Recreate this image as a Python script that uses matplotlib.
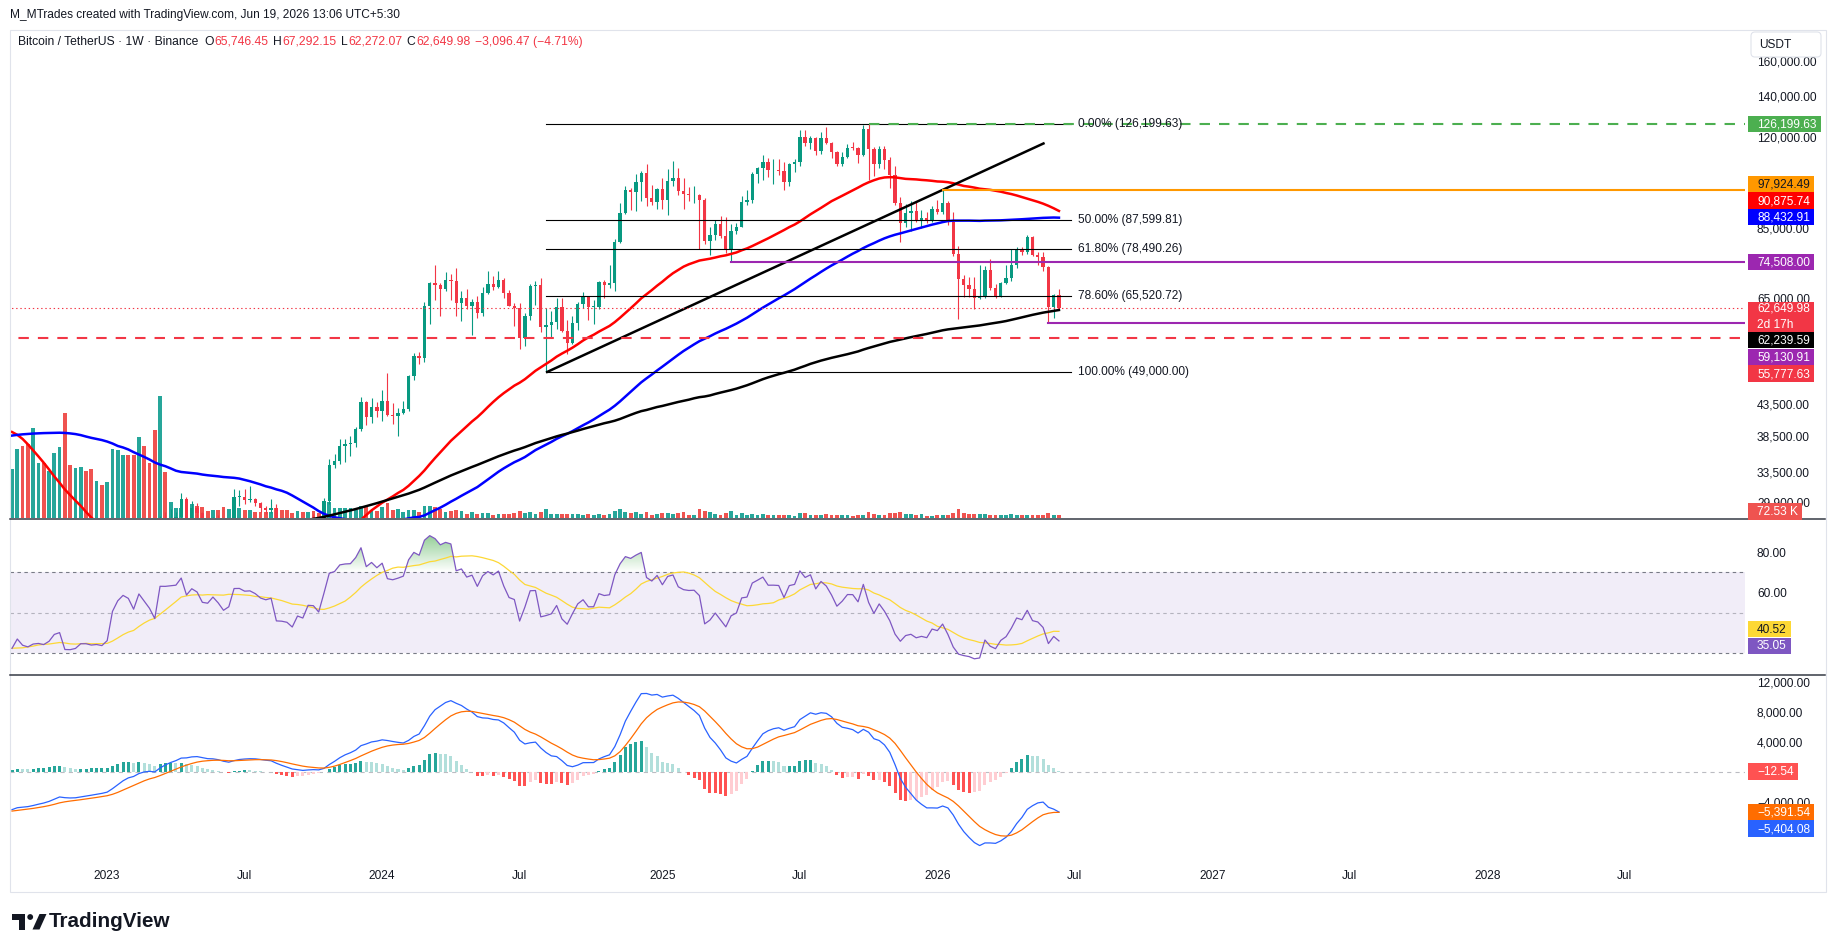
import numpy as np
import pandas as pd
import matplotlib
matplotlib.use("Agg")
import matplotlib.pyplot as plt
import matplotlib.dates as mdates
from matplotlib.patches import Rectangle, Polygon, Circle, PathPatch, FancyBboxPatch
from matplotlib.path import Path
from matplotlib.ticker import FixedLocator, FuncFormatter, NullLocator
from matplotlib.colors import LinearSegmentedColormap

plt.rcParams['font.family'] = ['Liberation Sans', 'DejaVu Sans']
plt.rcParams['lines.scale_dashes'] = False

# ======================= DATA =======================
first_week = '2022-08-29'          # weekly candles, Monday opens
opens = [
    19550, 19830, 21650, 19420, 18800, 19310, 19415, 19070, 19570, 20630,
    20910, 16330, 16280, 16450, 17090, 17080, 16780, 16840, 16620, 17130,
    20880, 22710, 23740, 23330, 21780, 24630, 23550, 22420, 20630, 28000,
    27990, 28170, 28320, 30300, 27590, 29230, 28690, 26910, 26750, 28070,
    27110, 25840, 26500, 30540, 30570, 30160, 30230, 29860, 29280, 29050,
    29300, 26100, 26050, 25880, 25160, 26530, 26250, 27970, 27920, 27150,
    30000, 34500, 35010, 37060, 37360, 37450, 39460, 43780, 41370, 42990,
    42280, 43940, 41740, 41580, 42030, 42580, 48300, 52140, 51730, 63110,
    68960, 68390, 67210, 69650, 69360, 63920, 64930, 63110, 64010, 61480,
    66270, 68510, 67760, 69650, 66220, 63210, 62670, 55860, 60800, 68160,
    68270, 58160, 58710, 59410, 62880, 57300, 54830, 59130, 63580, 65600,
    62820, 62850, 69030, 68370, 68730, 80370, 89850, 97900, 97280, 101110,
    104460, 95180, 93710, 98360, 94510, 101330, 102620, 97700, 96460, 96120,
    96260, 94270, 80730, 82580, 86080, 82390, 78430, 83760, 85170, 93750,
    94280, 104120, 106460, 109000, 105700, 105720, 105600, 100960, 108370, 109200,
    119840, 117270, 119450, 113800, 119300, 117400, 113500, 108250, 111140, 115270,
    115230, 112160, 123500, 114700, 108300, 114500, 110100, 103900, 93300, 86600,
    89800, 90500, 87600, 88300, 87300, 91300, 90300, 93300, 86700, 76800,
    69800, 68300, 67300, 65100, 65400, 72300, 67500, 65500, 68800, 70300,
    73800, 78400, 77500, 81900, 76700, 76000, 73100, 62800, 65746.45]
highs = [
    20580, 21860, 22800, 19950, 20380, 20480, 19950, 19700, 21090, 21480,
    21050, 17190, 16800, 17420, 17430, 18390, 17060, 16970, 17180, 21260,
    23370, 23820, 24250, 23450, 25250, 25130, 23880, 22600, 28390, 28870,
    29190, 28800, 31000, 30480, 30040, 29850, 28800, 27650, 28260, 28450,
    27400, 26800, 31430, 31280, 31500, 31800, 30440, 29990, 29530, 30250,
    29690, 26800, 28150, 26400, 26780, 27480, 28060, 28580, 27990, 30400,
    35200, 35980, 37980, 37980, 38450, 39770, 44700, 44000, 44400, 43800,
    45880, 48970, 43580, 42850, 43880, 48590, 52820, 52990, 64000, 69170,
    73780, 68900, 71770, 71340, 72800, 66870, 67230, 64730, 65500, 67700,
    71980, 70600, 71990, 70200, 66980, 63800, 63860, 61400, 68490, 69380,
    70080, 62720, 61800, 65050, 64960, 59810, 60670, 64130, 66500, 65610,
    64480, 69400, 69520, 73620, 81500, 93480, 99590, 98870, 104090, 105250,
    108350, 99960, 98900, 102720, 106420, 109590, 106450, 102500, 99200, 99480,
    96500, 95000, 85300, 87450, 88770, 88500, 86100, 86500, 95760, 97900,
    104970, 107100, 111980, 110720, 110500, 110400, 108950, 108530, 110530, 123200,
    123220, 120250, 119800, 122300, 124470, 117600, 113700, 113400, 116800, 117900,
    115400, 125700, 126199.63, 115600, 116000, 116000, 111000, 107300, 95500, 93000,
    94000, 94000, 91000, 90200, 92300, 94300, 97924.49, 94000, 90300, 79200,
    71000, 70500, 70400, 73800, 73500, 75300, 68500, 69000, 73600, 78400,
    79000, 79000, 82600, 82400, 77500, 77600, 73500, 66000, 67292.15]
lows = [
    19520, 18540, 19320, 18125, 18470, 19090, 18190, 18650, 19150, 20050,
    15590, 15830, 15480, 16000, 16875, 16530, 16400, 16330, 16500, 17110,
    20400, 22300, 22500, 21360, 21400, 22960, 21970, 19550, 20270, 26600,
    26510, 27200, 28170, 27100, 26940, 27660, 25810, 26100, 25870, 26600,
    25350, 24800, 26250, 29500, 29700, 29950, 29500, 28860, 28580, 28700,
    25170, 25800, 25330, 24900, 24900, 26100, 25990, 27170, 26540, 26960,
    29670, 34080, 34530, 34800, 35630, 36870, 39290, 40180, 40500, 41320,
    40750, 41500, 40280, 38550, 41880, 42250, 47700, 50520, 50900, 59000,
    64550, 60780, 66800, 64490, 60660, 59600, 62390, 56550, 60190, 60750,
    66060, 67120, 67600, 65070, 63000, 58400, 53480, 54260, 59900, 63450,
    57120, 49000, 56120, 57860, 57200, 52550, 54580, 57490, 62700, 59830,
    58890, 62460, 65060, 67460, 66830, 80250, 89380, 90790, 90500, 94150,
    92230, 92570, 91220, 91200, 89260, 99500, 96150, 91230, 94090, 93400,
    78260, 80000, 76600, 81130, 81600, 77150, 74508, 83000, 85140, 92800,
    93370, 100700, 102000, 103070, 100370, 104000, 98200, 99600, 105100, 107450,
    115740, 114720, 112000, 112650, 116800, 110600, 107300, 107250, 110600, 114400,
    108600, 111500, 102000, 103600, 106600, 106300, 98700, 92600, 80500, 85200,
    83800, 86700, 85000, 86500, 86800, 89500, 89500, 86000, 76400, 60000,
    65200, 65200, 62400, 64800, 65000, 67000, 65000, 65300, 68500, 69500,
    73000, 76500, 77000, 76400, 73800, 72200, 59130.91, 60300, 62272.07]
closes = [
    19830, 21650, 19420, 18800, 19310, 19415, 19070, 19570, 20630, 20910,
    16330, 16280, 16450, 17090, 17080, 16780, 16840, 16620, 17130, 20880,
    22710, 23740, 23330, 21780, 24630, 23550, 22420, 20630, 28000, 27990,
    28170, 28320, 30300, 27590, 29230, 28690, 26910, 26750, 28070, 27110,
    25840, 26500, 30540, 30570, 30160, 30230, 29860, 29280, 29050, 29300,
    26100, 26050, 25880, 25160, 26530, 26250, 27970, 27920, 27150, 30000,
    34500, 35010, 37060, 37360, 37450, 39460, 43780, 41370, 42990, 42280,
    43940, 41740, 41580, 42030, 42580, 48300, 52140, 51730, 63110, 68960,
    68390, 67210, 69650, 69360, 63920, 64930, 63110, 64010, 61480, 66270,
    68510, 67760, 69650, 66220, 63210, 62670, 55860, 60800, 68160, 68270,
    58160, 58710, 59410, 62880, 57300, 54830, 59130, 63580, 65600, 62820,
    62850, 69030, 68370, 68730, 80370, 89850, 97900, 97280, 101110, 104460,
    95180, 93710, 98360, 94510, 101330, 102620, 97700, 96460, 96120, 96260,
    94270, 80730, 82580, 86080, 82390, 78430, 83760, 85170, 93750, 94280,
    104120, 106460, 109000, 105700, 105720, 105600, 100960, 108370, 109200, 119840,
    117270, 119450, 113800, 119300, 117400, 113500, 108250, 111140, 115270, 115230,
    112160, 123500, 114700, 108300, 114500, 110100, 103900, 93300, 86600, 89800,
    90500, 87600, 88300, 87300, 91300, 90300, 93300, 86700, 76800, 69800,
    68300, 67300, 65100, 65400, 72300, 67500, 65500, 68800, 70300, 73800,
    78400, 77500, 81900, 76700, 76000, 73100, 62800, 65746.45, 62649.98]
volumes_k = [
    1166, 1642, 1714, 1761, 2142, 1309, 1309, 1119, 1547, 1690,
    2499, 1261, 1190, 1214, 1119, 1166, 881, 785, 857, 1642,
    1618, 1499, 1499, 1499, 1928, 1714, 1309, 2094, 2904, 1095,
    381, 238, 238, 238, 333, 286, 262, 167, 190, 190,
    262, 214, 262, 238, 190, 190, 143, 143, 143, 143,
    238, 190, 190, 119, 167, 143, 143, 167, 119, 214,
    381, 238, 238, 238, 238, 190, 286, 262, 190, 167,
    262, 357, 190, 214, 143, 190, 190, 143, 286, 286,
    262, 214, 143, 167, 190, 167, 95, 143, 95, 119,
    119, 71, 95, 95, 95, 119, 167, 119, 143, 95,
    143, 214, 95, 95, 95, 95, 95, 95, 71, 95,
    71, 95, 71, 95, 167, 214, 143, 119, 143, 95,
    143, 71, 95, 119, 119, 95, 119, 143, 71, 71,
    214, 167, 143, 95, 71, 119, 167, 71, 119, 71,
    95, 71, 95, 71, 71, 71, 71, 71, 48, 119,
    119, 71, 71, 71, 95, 71, 71, 71, 71, 48,
    71, 71, 143, 95, 71, 71, 119, 119, 143, 95,
    95, 71, 95, 48, 48, 71, 71, 71, 119, 214,
    119, 95, 95, 95, 95, 71, 71, 71, 71, 95,
    71, 71, 71, 71, 71, 71, 119, 71, 72.53]
# weekly closes before the visible window (Nov-2019 .. Aug-2022), used only to warm up MAs / RSI / MACD
prior_closes = [
    9040, 8500, 7050, 7400, 7510, 7070, 7510, 7250, 7760,
    8180, 8700, 8590, 9340, 10150, 9920, 9960, 8530, 8030, 5360,
    5820, 5880, 6770, 6900, 7120, 7700, 8890, 8720, 9670, 8720,
    9450, 9750, 9330, 9290, 9120, 9070, 9240, 9170, 9930, 11090,
    11680, 11900, 11650, 11700, 10250, 10330, 10930, 10770, 10670, 11380,
    11500, 13030, 13740, 15480, 15960, 18410, 18180, 19160, 19270, 23450,
    26250, 32200,
    38150, 35830, 32260, 33100, 38800, 48580, 57400, 45240, 50970, 59020,
    57350, 55780, 57060, 60000, 56150, 49100, 56600, 58240, 46430, 34650,
    35660, 35800, 39100, 35500, 34700, 34240, 34260, 31780, 35400, 39850,
    46290, 47080, 49320, 48840, 51750, 45160, 47250, 42700, 49230, 57470,
    61530, 60860, 61300, 63270, 65470, 59720, 57270, 49390, 48370, 46680,
    50780, 47290,
    41830, 43080, 36280, 38150, 42410, 42200, 38360, 43160, 38060, 37780,
    41260, 46830, 46400, 40390, 39700, 39450, 37630, 34060, 31300, 29430,
    29460, 29900, 26570, 20550, 21030, 19300, 20850, 22460, 22580, 23300,
    23180, 24300, 21530, 19550]

# drawings
fib_ratios = ['0.00%', '50.00%', '61.80%', '78.60%', '100.00%']
fib_values = [126199.63, 87599.81, 78490.26, 65520.72, 49000.00]
fib_start, fib_end, fib_label_at = '2024-08-05', '2026-07-01', '2026-07-10'
trend_dates = ['2024-08-05', '2026-05-27']
trend_values = [49000.00, 117300.0]
level_names = ['ATH', '', '2025 LOW', 'LOW', 'Weekly S/R']
level_values = [126199.63, 97924.49, 74508.00, 59130.91, 55777.63]
level_starts = ['2025-10-06', '2026-01-12', '2025-04-07', '2026-06-01', '2022-01-01']
level_to_label = [True, False, False, False, True]   # dashed lines end at the label; others run to the axis
level_label_end = '2028-12-10'
last_price, last_open = 62649.98, 65746.45
countdown = '2d 17h'
ma_last = [90875.74, 88432.91, 62239.59]     # SMA 50 / 100 / 200 last values
volume_last = '72.53 K'
rsi_last, rsi_ma_last = 35.05, 40.52
macd_last, signal_last, hist_last = -5404.08, -5391.54, -12.54
price_ticks = [160000, 140000, 120000, 85000, 65000, 43500, 38500, 33500, 29900]
rsi_ticks = [80, 60]
macd_ticks = [12000, 8000, 4000, -4000]
time_tick_dates = ['2023-01-02', '2023-07-03', '2024-01-01', '2024-07-01', '2025-01-06', '2025-07-07',
                   '2026-01-05', '2026-07-06', '2027-01-04', '2027-07-05', '2028-01-03', '2028-07-03']
time_tick_labels = ['2023', 'Jul', '2024', 'Jul', '2025', 'Jul', '2026', 'Jul', '2027', 'Jul', '2028', 'Jul']
credit = 'M_MTrades created with TradingView.com, Jun 19, 2026 13:06 UTC+5:30'
title = 'Bitcoin / TetherUS \u00b7 1W \u00b7 Binance'
ohlc_txt = [('O', '65,746.45'), ('H', '67,292.15'), ('L', '62,272.07'), ('C', '62,649.98')]
change_txt = '\u22123,096.47 (\u22124.71%)'

# ======================= indicators =======================
n = len(closes)
dates = pd.date_range(first_week, periods=n, freq='7D')
x = mdates.date2num(dates.values)
O, Hh, Lw, C = (np.array(a, float) for a in (opens, highs, lows, closes))
V = np.array(volumes_k, float)
n0 = len(prior_closes)
s = pd.Series(np.array(prior_closes + closes, float))
ma50 = s.rolling(50).mean().values[n0:]
ma100 = s.rolling(100).mean().values[n0:]
ma200 = s.rolling(200).mean().values[n0:]
d = s.diff()
up_ = d.clip(lower=0).ewm(alpha=1/14, adjust=False).mean()
dn_ = (-d.clip(upper=0)).ewm(alpha=1/14, adjust=False).mean()
rsi_all = 100 - 100 / (1 + up_ / dn_)
rsi = rsi_all.values[n0:]
rsi_ma = rsi_all.rolling(14).mean().values[n0:]
macd_all = s.ewm(span=12, adjust=False).mean() - s.ewm(span=26, adjust=False).mean()
sig_all = macd_all.ewm(span=9, adjust=False).mean()
hist_all = (macd_all - sig_all).values
macd = macd_all.values[n0:]
sig = sig_all.values[n0:]
hist = hist_all[n0:]
hprev = hist_all[n0 - 1:-1]

# ======================= layout =======================
W, H = 1835, 951
PL, PR = 10, 1745
P_TOP, P_BOT = 29, 518
R_TOP, R_BOT = 519, 674
M_TOP, M_BOT = 675, 863
FS = 8.6
DARK = '#131722'
UP, DOWN = '#089981', '#F23645'

fig = plt.figure(figsize=(W / 100, H / 100), dpi=100)
fig.patch.set_facecolor('white')

def rect(x0, y0, x1, y1):
    return [x0 / W, 1 - y1 / H, (x1 - x0) / W, (y1 - y0) / H]

ax_v = fig.add_axes(rect(PL, P_TOP, PR, P_BOT))
ax_p = fig.add_axes(rect(PL, P_TOP, PR, P_BOT), sharex=ax_v)
ax_r = fig.add_axes(rect(PL, R_TOP, PR, R_BOT), sharex=ax_v)
ax_m = fig.add_axes(rect(PL, M_TOP, PR, M_BOT), sharex=ax_v)
ax_p.patch.set_visible(False)

x_first = mdates.datestr2num(first_week)
XL = (x_first - 2.65, x_first + 2294.2)
far_left, far_right = XL[0] - 400, XL[1] + 400

# ---- volume ----
upmask = C >= O
ax_v.bar(x, V, width=5.0, color=np.where(upmask, '#26A69A', '#EF5350'), linewidth=0)
ax_v.set_ylim(0, 11638)

# ---- price ----
ax_p.set_yscale('log')
col = np.where(upmask, UP, DOWN)
ax_p.vlines(x, Lw, Hh, colors=col, linewidth=0.8, zorder=2)
blo = np.minimum(O, C)
bhi = np.maximum(np.maximum(O, C), blo * 1.003)
ax_p.bar(x, bhi - blo, bottom=blo, width=4.4, color=col, linewidth=0, zorder=2.1)

ax_p.plot(x, ma50, color='#FF0000', lw=1.8, zorder=3)
ax_p.plot(x, ma100, color='#0000FF', lw=1.8, zorder=3)
ax_p.plot(x, ma200, color='#000000', lw=1.8, zorder=3)

# fib retracement
fx0, fx1 = mdates.datestr2num(fib_start), mdates.datestr2num(fib_end)
for r, v in zip(fib_ratios, fib_values):
    ax_p.plot([fx0, fx1], [v, v], color='#000000', lw=0.8, zorder=4)
    ax_p.text(mdates.datestr2num(fib_label_at), v, f'{r} ({v:,.2f})', color=DARK,
              fontsize=FS, va='center', ha='left', zorder=5)
# trend line
ax_p.plot(mdates.datestr2num(trend_dates), trend_values, color='#000000', lw=1.8, zorder=4,
          solid_capstyle='butt')

# horizontal levels
lvl_colors = ['#4CAF50', '#FF9800', '#9C27B0', '#9C27B0', '#F23645']
lx_end = mdates.datestr2num(level_label_end)
for name, v, st, to_lab, c in zip(level_names, level_values, level_starts, level_to_label, lvl_colors):
    xs = mdates.datestr2num(st)
    xe = lx_end if to_lab else far_right
    if to_lab:
        ax_p.plot([xs, xe], [v, v], color=c, lw=1.5, dashes=(7.5, 6.5), zorder=4)
    else:
        ax_p.plot([xs, xe], [v, v], color=c, lw=1.5, zorder=4)
    if name:
        ax_p.annotate(name, xy=(lx_end, v), xytext=(0, 2.5), textcoords='offset points',
                      ha='right', va='bottom', color=c, fontsize=FS, zorder=5)
# current price line
ax_p.plot([far_left, far_right], [last_price, last_price], color=DOWN, lw=0.8, dashes=(1, 2), zorder=4)

ax_p.set_xlim(*XL)
ax_p.set_ylim(28170, 180930)

# ---- RSI ----
ax_r.axhspan(30, 70, color='#7E57C2', alpha=0.1, lw=0, zorder=0.5)
for lv, a in ((70, 1.0), (50, 0.5), (30, 1.0)):
    ax_r.axhline(lv, color='#787B86', alpha=a, lw=0.8, dashes=(2.5, 2.5), zorder=1)
fb = ax_r.fill_between(x, rsi, 70, where=rsi > 70, interpolate=True, facecolor='none', edgecolor='none')
paths = [p for p in fb.get_paths() if len(p.vertices) > 2]
if paths:
    cp = Path.make_compound_path(*paths)
    clip = PathPatch(cp, transform=ax_r.transData, facecolor='none', edgecolor='none')
    ax_r.add_patch(clip)
    cmap = LinearSegmentedColormap.from_list('ob', [(0.298, 0.686, 0.314, 0.0), (0.298, 0.686, 0.314, 1.0)])
    grad = np.linspace(0, 1, 256).reshape(-1, 1)
    im = ax_r.imshow(grad, extent=[x[0], x[-1], 70, 100], origin='lower', aspect='auto',
                     cmap=cmap, zorder=1.5, interpolation='bilinear')
    im.set_clip_path(clip)
ax_r.plot(x, rsi_ma, color='#FDD835', lw=0.9, zorder=2)
ax_r.plot(x, rsi, color='#7E57C2', lw=0.9, zorder=2.2)
ax_r.set_xlim(*XL)
ax_r.set_ylim(19.8, 96.3)

# ---- MACD ----
hcol = np.where(hist >= 0, np.where(hist > hprev, '#26A69A', '#B2DFDB'),
                np.where(hist < hprev, '#FF5252', '#FFCDD2'))
ax_m.axhline(0, color='#787B86', alpha=0.5, lw=0.8, dashes=(3, 3), zorder=1)
ax_m.bar(x, hist, width=4.0, color=hcol, linewidth=0, zorder=1.5)
ax_m.plot(x, macd, color='#2962FF', lw=0.9, zorder=2)
ax_m.plot(x, sig, color='#FF6D00', lw=0.9, zorder=2)
ax_m.set_xlim(*XL)
ax_m.set_ylim(-12200, 12867)

# ---- axes cosmetics ----
fmt = FuncFormatter(lambda v, p: f'{v:,.2f}'.replace('-', '\u2212'))
for ax in (ax_v, ax_p, ax_r, ax_m):
    for sp in ax.spines.values():
        sp.set_visible(False)
    ax.tick_params(axis='x', which='both', bottom=False, top=False, labelbottom=False)
ax_v.set_yticks([])
for ax, tk in ((ax_p, price_ticks), (ax_r, rsi_ticks), (ax_m, macd_ticks)):
    ax.yaxis.tick_right()
    ax.yaxis.set_major_locator(FixedLocator(tk))
    ax.yaxis.set_minor_locator(NullLocator())
    ax.yaxis.set_major_formatter(fmt)
    ax.tick_params(axis='y', which='both', length=0, pad=8.6, labelsize=FS, labelcolor=DARK)
ax_p.set_ylim(28170, 180930)

# ======================= overlay (pixel coordinates) =======================
ov = fig.add_axes([0, 0, 1, 1])
ov.set_xlim(0, W)
ov.set_ylim(H, 0)
ov.set_axis_off()
ov.patch.set_visible(False)
ov.set_zorder(10)
renderer = fig.canvas.get_renderer()

def ypix(ax, v):
    return H - ax.transData.transform((XL[0], v))[1]

def xpix(ax, xv):
    return ax.transData.transform((xv, 1.0))[0]

# frame and pane separators
ov.add_patch(Rectangle((9.5, 29.5), 1816, 862, fill=False, edgecolor='#E0E3EB', lw=0.8))
for yy in (518.5, 674.5):
    ov.plot([10, 1825], [yy, yy], color='#363A45', lw=1.1)

# time labels
for dstr, lab in zip(time_tick_dates, time_tick_labels):
    ov.text(xpix(ax_m, mdates.datestr2num(dstr)), 876, lab, ha='center', va='center',
            fontsize=FS, color=DARK)

def fit_text(xx, yy, txt, target_w, size, **kw):
    t = ov.text(xx, yy, txt, fontsize=size, **kw)
    w = t.get_window_extent(renderer).width
    t.set_fontsize(size * target_w / w)
    return t

# credit and header
fit_text(10, 15, credit, 389, 8.5, color=DARK, va='center', ha='left')
t0 = fit_text(18, 42, title, 181, 8.7, color=DARK, va='center', ha='left')
hs = t0.get_fontsize()
cx = t0.get_window_extent(renderer).x1 + 6
for lab, val in ohlc_txt:
    t = ov.text(cx, 42, lab, color=DARK, fontsize=hs, va='center', ha='left')
    cx = t.get_window_extent(renderer).x1 + 0.5
    t = ov.text(cx, 42, val, color=DOWN, fontsize=hs, va='center', ha='left')
    cx = t.get_window_extent(renderer).x1 + 4.5
ov.text(cx, 42, change_txt, color=DOWN, fontsize=hs, va='center', ha='left')

# USDT box
ov.add_patch(FancyBboxPatch((1751, 32), 70, 25, boxstyle='round,pad=0,rounding_size=4',
                            facecolor='white', edgecolor='#E0E3EB', lw=0.8, zorder=11))
ov.text(1759, 44.5, 'USDT', color=DARK, fontsize=FS, va='center', ha='left', zorder=12)

# badges
BH, STEP = 16.3, 16.7
def badge(yc, txt, bg, fg='white', lines2=None):
    t = ov.text(1757, yc + 0.5, txt, color=fg, fontsize=FS, ha='left', va='center', zorder=13)
    x1 = t.get_window_extent(renderer).x1 + 4
    if lines2 is None:
        ov.add_patch(Rectangle((1748, yc - BH / 2), x1 - 1748, BH, facecolor=bg, edgecolor='none', zorder=12))
    else:
        ov.text(1757, yc + 16.8, lines2, color=fg, fontsize=FS, ha='left', va='center', zorder=13)
        ov.add_patch(Rectangle((1748, yc - 6), x1 - 1748, 30, facecolor=bg, edgecolor='none', zorder=12))

cur_y = ypix(ax_p, last_price)
above = [(level_values[2], '#9C27B0', 'white'), (ma_last[1], '#0000FF', 'white'),
         (ma_last[0], '#FF0000', 'white'), (level_values[1], '#FF9800', DARK),
         (level_values[0], '#4CAF50', 'white')]
below = [(ma_last[2], '#000000', 'white'), (level_values[3], '#9C27B0', 'white'),
         (level_values[4], DOWN, 'white')]
lim = cur_y - 6
for v, bg, fg in sorted(above, key=lambda a: a[0]):
    yy = min(ypix(ax_p, v), lim - STEP / 2)
    badge(yy, f'{v:,.2f}', bg, fg)
    lim = yy - STEP / 2
lim = cur_y + 24
for v, bg, fg in sorted(below, key=lambda a: -a[0]):
    yy = max(ypix(ax_p, v), lim + STEP / 2)
    badge(yy, f'{v:,.2f}', bg, fg)
    lim = yy + STEP / 2
badge(cur_y, f'{last_price:,.2f}', DOWN, 'white', lines2=countdown)
badge(min(ypix(ax_v, float(volume_last.split()[0])), P_BOT - 6.5), volume_last, '#EF5350')

# RSI badges (spread symmetrically)
y1, y2 = ypix(ax_r, rsi_ma_last), ypix(ax_r, rsi_last)
if y2 - y1 < STEP:
    mid = (y1 + y2) / 2
    y1, y2 = mid - STEP / 2, mid + STEP / 2
badge(y1, f'{rsi_ma_last:.2f}', '#FDD835', DARK)
badge(y2, f'{rsi_last:.2f}', '#7E57C2', 'white')

# MACD badges (pushed downward)
yh = ypix(ax_m, hist_last)
badge(yh, f'{hist_last:,.2f}'.replace('-', '\u2212'), '#FF5252')
lim = yh + STEP / 2
for v, bg in sorted([(signal_last, '#FF6D00'), (macd_last, '#2962FF')], key=lambda a: -a[0]):
    yy = max(ypix(ax_m, v), lim + STEP / 2)
    badge(yy, f'{v:,.2f}'.replace('-', '\u2212'), bg)
    lim = yy + STEP / 2

# TradingView logo
ov.add_patch(Polygon([(12, 914), (25, 914), (25, 929.5), (19, 929.5), (19, 919.5), (12, 919.5)],
                     closed=True, facecolor=DARK, edgecolor='none'))
ov.add_patch(Circle((30.2, 917), 2.9, facecolor=DARK, edgecolor='none'))
ov.add_patch(Polygon([(32.5, 929.5), (39.5, 914), (46.5, 914), (39.5, 929.5)],
                     closed=True, facecolor=DARK, edgecolor='none'))
fit_text(49, 921.5, 'TradingView', 121, 14.5, color=DARK, fontweight='bold', va='center', ha='left')

fig.savefig('out.png', dpi=100, facecolor='white')
